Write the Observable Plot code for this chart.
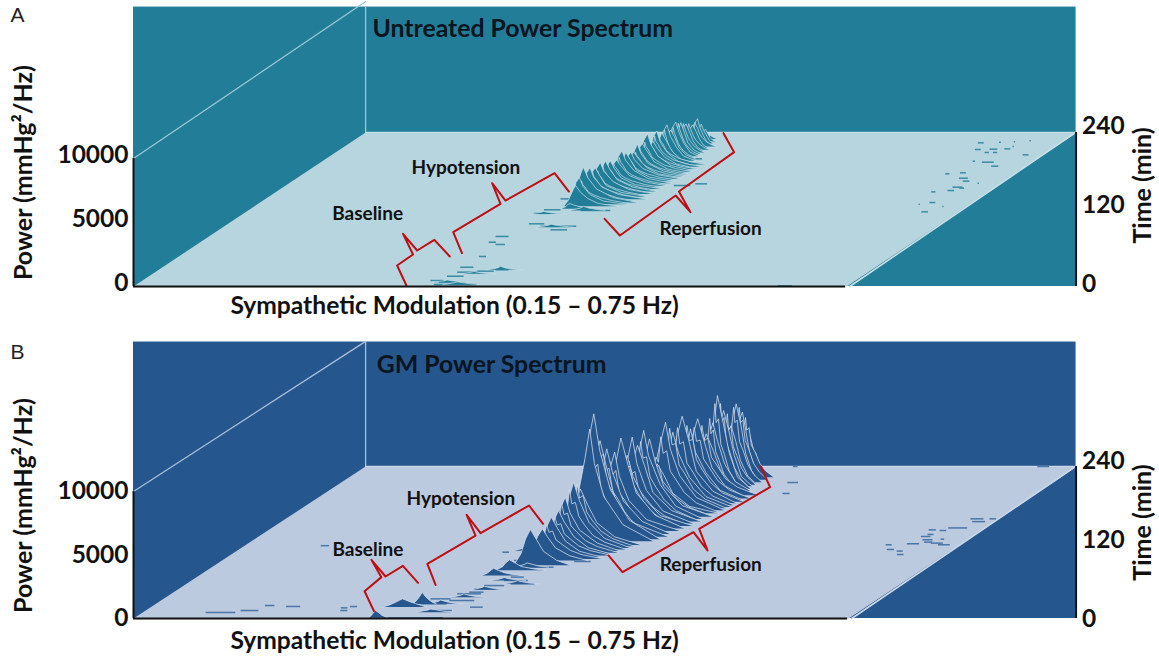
<!DOCTYPE html>
<html><head><meta charset="utf-8">
<script src="https://cdn.jsdelivr.net/npm/d3@7"></script>
<script src="https://cdn.jsdelivr.net/npm/@observablehq/plot@0.6"></script>
<style>html,body{margin:0;padding:0;background:#fff}svg{display:block}</style>
</head><body><div id="chart"></div>
<script>
// ---- axis values
const powerTicks = [0, 5000, 10000];
const timeTicks = [0, 120, 240];
const freqRange = [0.15, 0.75];
const maxTime = 240;

// ---- Panel A: Untreated, one row per spectrum
const ridgeTimeA = [230,226,223,220,216,211,207,203,199,196,192,188,185,181,177,173,170,168,164,161,157,152,148,144,140,136,131,128,125,121];
const ridgePeakA = [.4488,.4478,.4468,.446,.445,.4436,.4425,.4415,.4405,.4398,.4388,.4377,.4368,.4356,.4345,.4336,.433,.4322,.4312,.4304,.4292,.428,.427,.426,.425,.4239,.4223,.4215,.4207,.4194];
const ridgeOffsetA = [
 [-.006,-.003,0,.002,.004,.007],[-.009,-.005,-.002,0,.002,.004,.006,.009],[-.010,-.006,-.002,0,.002,.005,.007,.010],
 [-.012,-.007,-.003,0,.002,.005,.008,.012],[-.012,-.006,-.002,0,.003,.006,.009,.013],[-.013,-.007,-.003,0,.003,.006,.010,.015],
 [-.012,-.007,-.002,0,.003,.006,.011,.017],[-.013,-.008,-.003,0,.003,.007,.012,.019],[-.012,-.006,-.003,0,.003,.007,.013,.021],
 [-.014,-.008,-.003,0,.003,.008,.014,.024],[-.012,-.007,-.002,0,.004,.009,.016,.028],[-.013,-.007,-.003,0,.003,.009,.018,.032],
 [-.012,-.006,-.002,0,.004,.010,.020,.034],[-.014,-.008,-.003,0,.003,.009,.020,.038],[-.012,-.007,-.003,0,.004,.010,.021,.038],
 [-.013,-.007,-.002,0,.003,.009,.022,.040],[-.012,-.006,-.003,0,.004,.011,.021,.038],[-.014,-.008,-.003,0,.003,.010,.023,.042],
 [-.012,-.007,-.002,0,.004,.009,.020,.040],[-.013,-.007,-.003,0,.003,.010,.022,.042],[-.012,-.006,-.003,0,.004,.011,.024,.042],
 [-.014,-.008,-.003,0,.003,.009,.021,.044],[-.012,-.007,-.002,0,.004,.010,.023,.044],[-.013,-.007,-.003,0,.003,.011,.024,.046],
 [-.012,-.006,-.003,0,.004,.009,.022,.044],[-.014,-.008,-.003,0,.003,.010,.024,.048],[-.012,-.007,-.002,0,.004,.011,.025,.046],
 [-.012,-.006,-.003,0,.003,.009,.020,.040],[-.010,-.006,-.002,0,.004,.010,.019,.036],[-.008,-.004,-.002,0,.003,.008,.016,.030]];
const ridgePowerA = [
 [0,130,260,150,60,0],[0,260,760,960,600,300,110,0],[0,400,1150,1500,1000,520,180,0],
 [0,620,1650,2080,1400,760,260,0],[0,580,1480,1800,1300,680,240,0],[0,660,1720,2130,1500,800,280,0],
 [0,700,1900,2420,1650,860,300,0],[0,780,2200,2660,1800,1000,330,0],[0,690,1800,2250,1750,880,300,0],
 [0,860,2300,2800,1900,1050,360,0],[0,720,1950,2380,1700,900,320,0],[0,830,2250,2730,1850,1020,350,0],
 [0,640,1720,2100,1500,830,300,0],[0,880,2350,2860,2000,1100,370,0],[0,690,1900,2280,1700,880,320,0],
 [0,760,2040,2470,1720,940,340,0],[0,620,1600,1980,1450,760,280,0],[0,660,1700,2080,1480,800,300,0],
 [0,700,1820,2240,1650,860,320,0],[0,800,2080,2530,1800,1000,360,0],[0,620,1680,2000,1500,780,300,0],
 [0,720,1800,2210,1640,860,340,0],[0,760,2000,2400,1700,920,350,0],[0,790,2020,2470,1780,960,360,0],
 [0,700,1850,2260,1620,880,330,0],[0,790,2040,2470,1720,950,370,0],[0,880,2280,2760,1900,1060,380,0],
 [0,620,1700,2100,1400,760,260,0],[0,500,1320,1620,1100,620,220,0],[0,160,340,420,300,160,60,0]];
// jagged spectra between the main ridges, all on the same frequency bins round their peak
const jagBinsA = [-.012,-.009,-.006,-.004,-.002,-.001,0,.001,.003,.006,.010,.016,.026,.040];
const jagBinsBackA = [-.012,-.009,-.006,-.004,-.002,-.001,0,.001,.002,.004,.006,.009,.013,.018];
const jagTimeA = [218,213,209,205,201,194,190,186.5,183,179,175,171.5,166,159,154.5,150,146,142,138,133.5,129.5];
const jagPeakA = [.4455,.4442,.443,.442,.441,.4393,.4383,.4372,.4362,.435,.434,.4333,.4317,.4298,.4286,.4275,.4265,.4255,.4245,.4231,.4219];
const jagPowerA = [
 [0,420,900,1100,1500,1350,1900,1620,1500,980,720,420,180,0],[0,480,980,1280,1680,1500,2050,1800,1560,1100,780,460,190,0],
 [0,500,1050,1400,1760,1620,2250,1920,1680,1180,860,500,210,0],[0,520,1100,1450,1900,1700,2480,2050,1800,1260,900,540,230,0],
 [0,470,1000,1300,1760,1540,2350,1900,1700,1160,820,500,210,0],[0,500,1120,1420,1920,1700,2500,2100,1760,1200,900,540,240,0],
 [0,440,1000,1260,1700,1500,2200,1860,1620,1080,800,500,220,0],[0,480,1060,1380,1860,1620,2420,2000,1740,1200,880,540,240,0],
 [0,420,960,1220,1640,1480,2080,1800,1560,1040,780,500,220,0],[0,470,1060,1320,1800,1580,2300,1960,1700,1140,860,540,240,0],
 [0,420,920,1200,1620,1400,2060,1740,1500,1060,780,500,230,0],[0,400,880,1120,1540,1360,1900,1660,1420,980,740,480,220,0],
 [0,390,840,1060,1460,1300,1840,1560,1380,940,700,470,220,0],[0,420,920,1180,1620,1420,2100,1760,1520,1060,780,520,240,0],
 [0,400,860,1100,1500,1340,1940,1640,1420,980,730,500,230,0],[0,420,900,1160,1560,1400,2040,1700,1500,1020,780,520,240,0],
 [0,440,940,1180,1620,1420,2100,1760,1500,1040,780,530,250,0],[0,400,860,1080,1480,1300,1920,1600,1400,960,730,500,240,0],
 [0,420,880,1120,1540,1360,2000,1660,1440,1000,760,520,250,0],[0,420,900,1160,1560,1380,2080,1720,1460,1020,780,530,250,0],
 [0,360,800,1000,1360,1220,1760,1480,1280,880,680,460,220,0]];
const lowBins = [-.012,-.006,-.002,0,.004,.010,.018];
const lowTimeA = [118.5,113,92.5,26,19.7,6.8,3.1];
const lowPeakA = [.4327,.4035,.4266,.4381,.4207,.4087,.4203];
const lowPowerA = [[0,110,210,320,190,90,0],[0,70,130,190,120,50,0],[0,80,160,230,150,70,0],[0,80,170,270,140,60,0],[0,60,130,190,110,50,0],[0,60,110,170,100,50,0],[0,80,150,200,150,70,0]];
const speckTimeA = [9.3,16,22.3,23.9,26,3.1,6.8,30,69,78,65.5,46.8,114,119.5,136.6,97.7,94,88.3,118.5,160,157.4,188.6,199,222,
 223.9,213.5,214,208.9,208.9,214.5,205.2,193.8,187.5,195.3,175.6,177.2,168.8,164.2,149.6,154.8,153.3,147.5,130.9,116.4,225,225.5,227,218,161,128.3,124.7,1];
const speckFreqA = [.3926,.4011,.4045,.4201,.4338,.4005,.4017,.4009,.3931,.3915,.4016,.4029,.3943,.3985,.3985,.4035,.4164,.4294,.4302,.493,.477,.464,.457,.444,
 .679,.685,.697,.697,.704,.709,.732,.707,.720,.698,.691,.702,.708,.715,.714,.714,.721,.702,.714,.719,.696,.708,.72,.713,.730,.707,.730,.692];
const speckWidthA = [.011,.014,.017,.014,.011,.036,.015,.011,.006,.011,.008,.006,.014,.014,.008,.013,.030,.014,.025,.010,.014,.006,.010,.007,
 .005,.005,.0065,.0036,.0036,.005,.005,.01,.006,.002,.0034,.005,.0076,.0056,.0056,.0084,.004,.0036,.005,.0056,.0015,.0012,.0012,.0012,.0012,.001,.001,.012];

// ---- Panel B: GM, one row per spectrum
const ridgeTimeB = [229.5,225,221,217,213,209,205,201.5,197,192,187,182,176,171,166,160.5,157,153,150,146,142,138,133.5,129,125,122,116,111.5,106.6,102,97,91.5,84,76,68,23,18,1];
const ridgePeakB = [.487,.485,.483,.481,.480,.477,.475,.474,.472,.469,.467,.464,.461,.459,.456,.454,.452,.450,.448,.447,.445,.443,.440,.438,.436,.435,.432,.430,.427,.425,.423,.420,.416,.405,.398,.3745,.362,.3532];
const ridgeOffsetB = [
 [-.014,-.008,-.003,0,.002,.004,.007,.010],[-.016,-.010,-.004,0,.003,.006,.009,.013],[-.018,-.012,-.005,0,.003,.006,.011,.016],
 [-.016,-.009,-.003,0,.004,.008,.013,.019],[-.018,-.010,-.004,0,.004,.008,.014,.021],[-.020,-.012,-.005,0,.004,.009,.015,.024],
 [-.018,-.009,-.003,0,.005,.010,.017,.028],[-.020,-.011,-.004,0,.004,.010,.019,.032],[-.018,-.010,-.004,0,.006,.012,.022,.036],
 [-.020,-.012,-.005,0,.005,.012,.023,.040],[-.018,-.009,-.003,0,.004,.013,.025,.044],[-.022,-.012,-.005,0,.006,.012,.026,.046],
 [-.020,-.010,-.004,0,.005,.014,.028,.050],[-.022,-.012,-.005,0,.004,.012,.026,.050],[-.016,-.009,-.003,0,.006,.013,.027,.052],
 [-.022,-.012,-.004,0,.005,.012,.028,.054],[-.020,-.010,-.004,0,.004,.014,.027,.050],[-.022,-.012,-.005,0,.006,.013,.029,.054],
 [-.020,-.011,-.004,0,.004,.012,.026,.052],[-.022,-.012,-.005,0,.005,.014,.028,.056],[-.020,-.010,-.004,0,.006,.013,.029,.054],
 [-.022,-.012,-.005,0,.004,.012,.027,.056],[-.020,-.011,-.004,0,.005,.014,.030,.054],[-.024,-.013,-.005,0,.006,.013,.028,.058],
 [-.024,-.013,-.005,0,.005,.014,.030,.056],[-.022,-.012,-.004,0,.004,.012,.028,.054],[-.022,-.012,-.005,0,.006,.014,.029,.052],
 [-.020,-.011,-.004,0,.005,.013,.026,.048],[-.020,-.010,-.005,0,.004,.012,.027,.046],[-.018,-.010,-.004,0,.005,.013,.025,.044],
 [-.018,-.010,-.004,0,.005,.012,.024,.042],[-.016,-.009,-.004,0,.004,.011,.023,.038],[-.014,-.008,-.004,0,.005,.011,.022,.034],
 [-.012,-.006,-.003,0,.005,.010,.020,.030],[-.010,-.005,-.002,0,.004,.009,.016,.024],[-.008,-.005,-.002,0,.003,.006,.009,.012],
 [-.017,-.011,-.005,0,.006,.011,.016,.020],[-.006,-.004,-.002,0,.003,.005,.008,.010]];
const ridgePowerB = [
 [0,420,1180,1650,1050,560,190,0],[0,1020,2700,3590,2500,1300,460,0],[0,1500,3900,5240,3700,2100,700,0],
 [0,1700,4700,6080,4400,2200,800,0],[0,1400,3500,4560,3300,1800,600,0],[0,1600,4300,5950,4500,2400,760,0],
 [0,1900,5000,7330,5100,2800,900,0],[0,1500,4100,5360,3900,2100,720,0],[0,1400,3500,4720,3400,1900,680,0],
 [0,1750,4600,6160,4500,2300,860,0],[0,1500,4100,5610,3800,2150,760,0],[0,1900,5000,6850,4800,2500,940,0],
 [0,1700,4300,5890,4200,2350,820,0],[0,2000,5100,6920,4800,2700,1000,0],[0,1100,2900,3900,2950,1600,560,0],
 [0,1800,4500,6140,4300,2400,880,0],[0,2000,5200,6980,5000,2700,1020,0],[0,1700,4400,6000,4400,2300,860,0],
 [0,2000,5000,6810,4700,2600,980,0],[0,1550,4100,5560,3900,2200,820,0],[0,2000,5300,7130,5000,2800,1040,0],
 [0,1700,4600,6220,4300,2400,900,0],[0,1900,4900,6700,4800,2600,980,0],[0,2200,5700,7570,5300,2900,1100,0],
 [0,3000,7400,9880,7000,3900,1500,0],[0,2600,6500,8830,6100,3500,1300,0],[0,1300,3300,4410,3200,1750,640,0],
 [0,1500,3900,5170,3700,2000,760,0],[0,1200,3200,4240,3000,1650,620,0],[0,1000,2600,3420,2500,1350,500,0],
 [0,950,2350,3160,2300,1250,450,0],[0,800,1900,2510,1900,1000,380,0],[0,900,2100,2830,2050,1100,400,0],
 [0,280,620,830,560,300,120,0],[0,200,430,560,400,210,80,0],[0,240,600,920,560,300,120,0],
 [0,160,420,660,430,280,120,0],[0,150,380,580,380,220,90,0]];
const jagBinsB = [-.022,-.015,-.011,-.007,-.004,-.002,0,.002,.005,.008,.013,.020,.030,.048];
const jagBinsBackB = [-.020,-.014,-.010,-.007,-.004,-.002,0,.001,.003,.005,.008,.012,.017,.024];
const jagTimeB = [223,219,215,211,207,203,199.5,194.5,189.5,184.5,179,174,168.5,163,155,148,144,135.5,131,127.5,123.5,114,109,104,99.5,94];
const jagPeakB = [.484,.482,.4805,.4785,.476,.4745,.473,.4705,.468,.466,.4625,.460,.457,.455,.451,.447,.446,.441,.439,.437,.4355,.431,.4285,.426,.424,.4215];
const jagPowerB = [
 [0,900,2000,2300,3400,3000,4700,3700,3900,2500,2000,1100,500,0],[0,1100,2400,2900,4100,3600,5700,4500,4700,3100,2400,1300,600,0],
 [0,1200,2500,3000,4300,3900,5900,4700,4900,3200,2500,1400,620,0],[0,1100,2300,2800,4000,3500,5600,4300,4600,3000,2300,1300,600,0],
 [0,1300,2800,3400,4700,4300,6600,5100,5500,3500,2700,1500,660,0],[0,1400,2900,3500,5000,4400,6800,5300,5600,3600,2800,1500,680,0],
 [0,1200,2500,3000,4300,3800,5800,4600,4900,3200,2500,1400,640,0],[0,1100,2400,2800,4000,3600,5500,4300,4500,3000,2300,1300,640,0],
 [0,1100,2500,2900,4100,3700,5600,4500,4600,3100,2400,1400,660,0],[0,1300,2700,3200,4400,4000,6000,4800,4900,3300,2500,1500,680,0],
 [0,1300,2700,3100,4500,4000,6100,4800,5000,3300,2600,1500,700,0],[0,1300,2800,3300,4600,4200,6300,5000,5100,3400,2700,1500,720,0],
 [0,1200,2600,3100,4300,3900,5900,4600,4800,3200,2500,1500,700,0],[0,1000,2200,2600,3500,3200,4700,3800,3900,2700,2100,1300,640,0],
 [0,1300,2700,3200,4500,4100,6200,4900,5000,3400,2600,1600,760,0],[0,1100,2300,2700,3700,3400,5000,4000,4200,2800,2200,1400,700,0],
 [0,1200,2600,3100,4200,3900,5900,4700,4800,3300,2500,1500,740,0],[0,1000,2200,2900,3800,4700,5600,4500,4900,3100,2500,1400,650,0],
 [0,1100,2400,2800,4300,4000,6200,5100,5300,3500,2800,1500,700,0],[0,1400,2900,3300,5600,5000,7800,6200,6600,4400,3600,1900,900,0],
 [0,1200,2500,3900,4600,6000,7000,5600,6000,4000,2900,1700,800,0],[0,1000,2000,2500,3500,3100,4900,3800,4000,2700,2000,1200,600,0],
 [0,900,1900,2300,3400,3000,4700,3600,3700,2600,1900,1100,560,0],[0,800,1600,1900,2800,2600,3900,3000,3100,2100,1600,950,480,0],
 [0,600,1300,1500,2200,2000,3000,2400,2500,1700,1300,760,380,0],[0,560,1100,1400,1900,1800,2700,2100,2200,1500,1150,680,330,0]];
const lowTimeB = [107,89,81,54.7,45.3,33.7,23.1,10,60];
const lowPeakB = [.3944,.4207,.4158,.4288,.4087,.4010,.3900,.3923,.4134];
const lowPowerB = [[0,120,300,460,280,120,0],[0,90,210,300,200,80,0],[0,110,240,340,230,90,0],[0,80,170,250,170,70,0],[0,90,190,280,180,70,0],[0,80,170,260,150,60,0],[0,90,200,300,190,70,0],[0,110,180,240,190,90,0],[0,70,160,230,140,60,0]];
const speckTimeB = [116.4,109,106.4,101,118,129.5,124.3,120.6,140,139,143,119,116.4,157.4,153,157.4,132.7,125.3,240,214.7,197.4,240,
 104.7,91.6,86.3,81,60,54.7,65.3,39,46.8,52,28.4,41.6,17.9,16.8,18.9,23.1,31,12.6,9.5,20.5,19,115,12.6,12.6,131,143.7,90,191,143.7,1];
const speckFreqB = [.689,.696,.7065,.711,.7055,.708,.7136,.718,.706,.716,.72,.725,.733,.727,.732,.743,.711,.728,.716,.526,.536,.51,
 .3755,.396,.3975,.41,.4134,.4233,.4147,.391,.399,.403,.393,.399,.419,.311,.317,.373,.375,.394,.203,.244,.263,.214,.23,.314,.464,.441,.448,.4805,.4687,.36];
const speckWidthB = [.005,.006,.005,.0056,.0104,.008,.0084,.007,.006,.0056,.016,.01,.01,.011,.011,.0056,.005,.003,.01,.009,.006,.004,
 .0056,.0197,.028,.028,.02,.02,.011,.02,.018,.017,.021,.012,.0107,.0056,.006,.022,.017,.014,.025,.008,.012,.007,.015,.006,.013,.019,.014,.012,.017,.05];

// ---- Red braces, frequency (Hz) and time (min) along each bracket
const braceFreqA = [[.3787,.3455,.3449,.3103,.3433,.3443,.3784],[.3845,.3504,.3543,.321,.3543,.3609,.3963],[.461,.4951,.4913,.525,.489,.4855,.4524]];
const braceTimeA = [[1.6,32.7,49.9,82,56.1,72.7,46.8],[51.9,84.7,128.8,161,134,176.6,148],[105.5,79.5,141.8,115.8,148,209.4,239]];
const braceFreqB = [[.3432,.3096,.3057,.275,.3084,.3093,.3439],[.3613,.3273,.3315,.2973,.3327,.3379,.3733],[.4692,.5024,.5108,.5462,.5113,.5174,.483]];
const braceTimeB = [[11.6,43.1,65.3,92.6,66.3,83.1,56.3],[53.1,86.3,131,163.7,134.7,178.4,149.5],[99.5,73.2,136.3,107.4,141.6,207.4,240]];

const phaseNames = ["Baseline", "Hypotension", "Reperfusion"];
const phaseFreqA = [.2546,.279,.5627], phaseTimeA = [113.7,185.4,90.4];
const phaseFreqB = [.2587,.2714,.5669], phaseTimeB = [109,189.5,85.3];

const FONT = "Lato, 'Noto Sans', sans-serif";
const RIGHT_WALL = .9443;          // Hz position of the right-hand wall on the sheared frequency scale
const SHEAR = .000815;             // Hz of rightward shift per minute of depth

function panel(c) {
  const kp = c.depthPower;         // power-scale rise per minute of depth
  const P = (f, t, p = 0) => ({x: f + t * SHEAR, y: p + t * kp});
  const floor = [[.15,0],[c.frontRight,0],[c.backRight,maxTime],[.15,maxTime]].map(([f,t]) => P(f,t));
  const edge = [P(c.frontRight + .0035, 0), P(c.backRight, maxTime - 2)];
  const rows = [
    ...c.ridgeTime.map((t,i) => ({t, peak:c.ridgePeak[i], bins:c.ridgeOffset[i], power:c.ridgePower[i]})),
    ...c.jagTime.map((t,i) => ({t, peak:c.jagPeak[i], bins:t > c.backAfter ? c.jagBinsBack : c.jagBins, power:c.jagPower[i]})),
    ...c.lowTime.map((t,i) => ({t, peak:c.lowPeak[i], bins:lowBins, power:c.lowPower[i]}))
  ].sort((a,b) => b.t - a.t);      // back to front
  const ridges = rows.flatMap((row,i) => row.bins.map((o,j) => ({r:i, ...P(row.peak + o, row.t, row.power[j])})));
  const specks = c.speckTime.map((t,i) => {
    const a = P(c.speckFreq[i], t), b = P(c.speckFreq[i] + c.speckWidth[i], t);
    return {x1:a.x, x2:b.x, y1:a.y, y2:a.y};
  });
  const braces = c.braceFreq.flatMap((fs,i) => fs.map((f,j) => ({b:i, ...P(f, c.braceTime[i][j])})));
  const phases = phaseNames.map((s,i) => ({s, ...P(c.phaseFreq[i], c.phaseTime[i])}));
  const diag = [P(.15,0,10000), P(.15,maxTime,c.wallDiagEnd)];
  const back = [P(.15,maxTime), P(.15,maxTime,c.backTop)];
  const backFloor = [P(.15,maxTime), P(c.backRight,maxTime)];
  const top = c.backTop + maxTime * kp;
  return Plot.plot({
    width: 1159, height: c.height,
    marginLeft: 133, marginRight: 314, marginTop: c.marginTop, marginBottom: c.marginBottom,
    x: {domain: freqRange, axis: null},
    y: {domain: [0, 10000], axis: null},
    style: {fontFamily: FONT, background: "#fff", color: "#111"},
    marks: [
      Plot.rect([{}], {x1: .15, x2: RIGHT_WALL, y1: 0, y2: top, fill: c.wall}),
      Plot.line(floor, {x:"x", y:"y", fill:c.floor, stroke:c.floor}),
      Plot.line(diag, {x:"x", y:"y", stroke:c.lineCol, strokeWidth:1.3}),
      Plot.line(back, {x:"x", y:"y", stroke:c.lineCol, strokeWidth:1.3}),
      Plot.line(backFloor, {x:"x", y:"y", stroke:c.edgeCol, strokeWidth:1.2}),
      Plot.line(edge, {x:"x", y:"y", stroke:c.edgeCol, strokeWidth:1.6}),
      Plot.link(specks, {x1:"x1", x2:"x2", y1:"y1", y2:"y2", stroke:c.speck, strokeWidth:1.5}),
      Plot.line(ridges, {x:"x", y:"y", z:"r", fill:c.wall, stroke:c.ridgeLine, strokeWidth:c.ridgeWidth, strokeOpacity:.85}),
      Plot.line(braces, {x:"x", y:"y", z:"b", stroke:"#c00d12", strokeWidth:2, strokeLinejoin:"round"}),
      Plot.ruleX([.15], {y1:0, y2:10000, stroke:"#111", strokeWidth:2}),
      Plot.ruleY([0], {x1:.15, x2:c.frontRight, stroke:"#111", strokeWidth:2}),
      Plot.ruleX([RIGHT_WALL], {y1:0, y2:maxTime*kp, stroke:"#111", strokeWidth:2}),
      Plot.axisY({anchor:"left", ticks:powerTicks, tickSize:0, tickPadding:5, tickFormat:d=>String(d), fontSize:24.5, fontWeight:700, label:null, dy:c.tickDy}),
      Plot.text(timeTicks, {x:RIGHT_WALL, y:d=>c.timeBase + d*c.timeStep, text:d=>String(d), textAnchor:"start", dx:6, fontSize:24.5, fontWeight:700, fill:"#111"}),
      Plot.text(phases, {x:"x", y:"y", text:"s", fontSize:19, fontWeight:700, fill:"#111"}),
      Plot.text([c.title], {x:c.titleF + maxTime*SHEAR, y:c.titleP + maxTime*kp, text:d=>d, fontSize:24.8, fontWeight:700, fill:"#0b1520"}),
      Plot.text(["Sympathetic Modulation (0.15 – 0.75 Hz)"], {x:.4206, y:c.xLabelP, text:d=>d, fontSize:24.6, fontWeight:700, fill:"#111"}),
      Plot.text(["Power (mmHg²/Hz)"], {x:.0581, y:8900, text:d=>d, rotate:-90, fontSize:25, fontWeight:700, fill:"#111"}),
      Plot.text(["Time (min)"], {x:1.0006, y:c.timeLabelP, text:d=>d, rotate:-90, fontSize:25, fontWeight:700, fill:"#111"}),
      Plot.text([c.letter], {x:.0522, y:c.letterP, text:d=>d, fontSize:21, fill:"#222", fontFamily:"'Liberation Sans', sans-serif"})
    ]
  });
}

const chart = document.getElementById("chart");
chart.append(panel({
  letter:"A", title:"Untreated Power Spectrum", titleF:.2824, titleP:8050,
  height:330, marginTop:158, marginBottom:44, depthPower:50.13,
  frontRight:.75, backRight:.7483, backTop:9800, wallDiagEnd:10230, xLabelP:-1560, timeLabelP:7890, letterP:21165,
  tickDy:-3, timeBase:156, timeStep:51.7, backAfter:192,
  wall:"#227d99", floor:"#b7d5de", lineCol:"#9cc8d4", edgeCol:"#c6e0e7", speck:"#3a8ba6", ridgeLine:"#cfe5ea", ridgeWidth:.8,
  ridgeTime:ridgeTimeA, ridgePeak:ridgePeakA, ridgeOffset:ridgeOffsetA, ridgePower:ridgePowerA,
  jagTime:jagTimeA, jagPeak:jagPeakA, jagBins:jagBinsA, jagBinsBack:jagBinsBackA, jagPower:jagPowerA,
  lowTime:lowTimeA, lowPeak:lowPeakA, lowPower:lowPowerA,
  speckTime:speckTimeA, speckFreq:speckFreqA, speckWidth:speckWidthA,
  braceFreq:braceFreqA, braceTime:braceTimeA, phaseFreq:phaseFreqA, phaseTime:phaseTimeA
}));
chart.append(panel({
  letter:"B", title:"GM Power Spectrum", titleF:.2562, titleP:7950,
  height:329, marginTop:161, marginBottom:41, depthPower:49.87,
  frontRight:.7517, backRight:.7483, backTop:9800, wallDiagEnd:9850, xLabelP:-1810, timeLabelP:7555, letterP:20930,
  tickDy:0, timeBase:-79, timeStep:51.8, backAfter:196,
  wall:"#25568e", floor:"#bccadf", lineCol:"#a9bfd9", edgeCol:"#cbd8ea", speck:"#4a76a8", ridgeLine:"#d6e0ee", ridgeWidth:.9,
  ridgeTime:ridgeTimeB, ridgePeak:ridgePeakB, ridgeOffset:ridgeOffsetB, ridgePower:ridgePowerB,
  jagTime:jagTimeB, jagPeak:jagPeakB, jagBins:jagBinsB, jagBinsBack:jagBinsBackB, jagPower:jagPowerB,
  lowTime:lowTimeB, lowPeak:lowPeakB, lowPower:lowPowerB,
  speckTime:speckTimeB, speckFreq:speckFreqB, speckWidth:speckWidthB,
  braceFreq:braceFreqB, braceTime:braceTimeB, phaseFreq:phaseFreqB, phaseTime:phaseTimeB
}));
</script></body></html>
